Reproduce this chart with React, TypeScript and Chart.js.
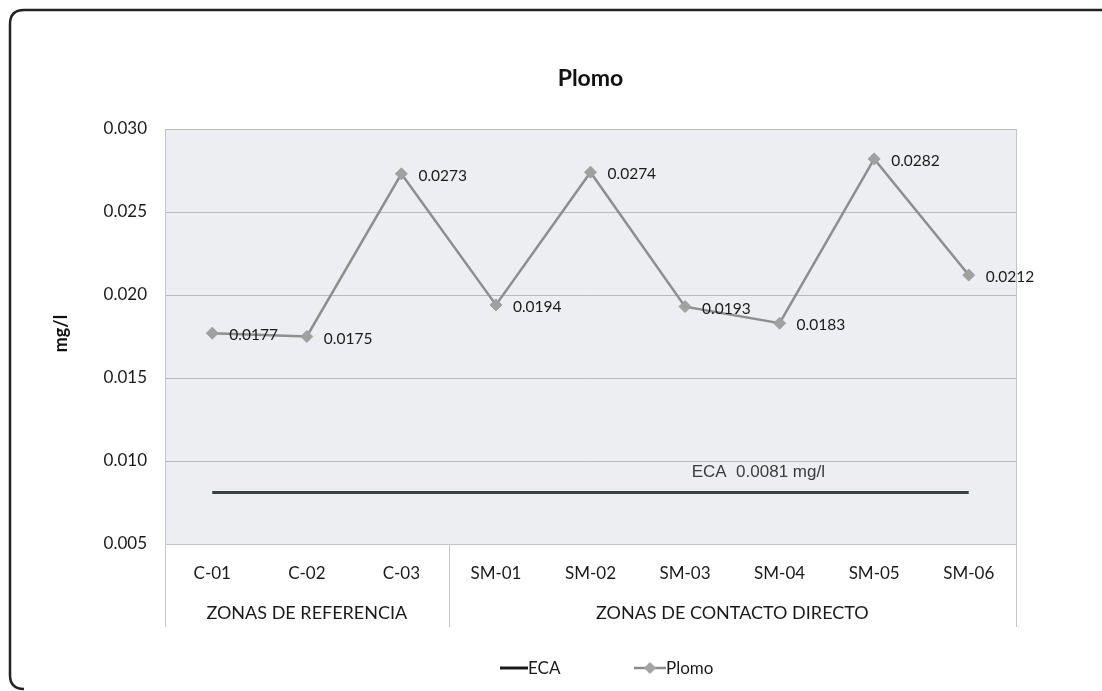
import React, { useEffect, useRef } from "react";
import { Chart, registerables } from "chart.js";

Chart.register(...registerables);

const categories = ["C-01", "C-02", "C-03", "SM-01", "SM-02", "SM-03", "SM-04", "SM-05", "SM-06"];
const plomoValues = [0.0177, 0.0175, 0.0273, 0.0194, 0.0274, 0.0193, 0.0183, 0.0282, 0.0212];
const ecaValue = 0.0081;
const ecaValues = categories.map(() => ecaValue);
const groups = [
  { label: "ZONAS DE REFERENCIA", from: 0, to: 2 },
  { label: "ZONAS DE CONTACTO DIRECTO", from: 3, to: 8 },
];
const chartTitle = "Plomo";
const yTitle = "mg/l";
const ecaNote = "ECA  0.0081 mg/l";
const yMin = 0.005;
const yMax = 0.03;
const yStep = 0.005;

const FONT = "Lato, 'Open Sans', sans-serif";

const decorPlugin = {
  id: "decor",
  beforeDraw(chart: any) {
    const { ctx, chartArea } = chart;
    ctx.save();
    ctx.fillStyle = "#ffffff";
    ctx.fillRect(0, 0, chart.width, chart.height);
    ctx.fillStyle = "#eceef1";
    ctx.fillRect(chartArea.left, chartArea.top, chartArea.right - chartArea.left, chartArea.bottom - chartArea.top);
    ctx.restore();
  },
  afterDraw(chart: any) {
    const { ctx, chartArea, scales } = chart;
    const xs = scales.x;
    const ys = scales.y;
    ctx.save();
    // outer frame (top-left)
    ctx.strokeStyle = "#222";
    ctx.lineWidth = 2.5;
    ctx.beginPath();
    ctx.moveTo(24, 689);
    ctx.quadraticCurveTo(10, 689, 10, 675);
    ctx.lineTo(10, 24);
    ctx.quadraticCurveTo(10, 10, 24, 10);
    ctx.lineTo(1102, 10);
    ctx.stroke();

    // plot border left / right
    ctx.strokeStyle = "#c4c4c4";
    ctx.lineWidth = 1;
    ctx.beginPath();
    ctx.moveTo(chartArea.left + 0.5, chartArea.top);
    ctx.lineTo(chartArea.left + 0.5, chartArea.bottom + 83);
    ctx.moveTo(chartArea.right + 0.5, chartArea.top);
    ctx.lineTo(chartArea.right + 0.5, chartArea.bottom + 83);
    ctx.stroke();

    // group separators + labels
    const step = xs.getPixelForValue(1) - xs.getPixelForValue(0);
    groups.forEach((g, i) => {
      const left = xs.getPixelForValue(g.from) - step / 2;
      const right = xs.getPixelForValue(g.to) + step / 2;
      if (i > 0) {
        ctx.beginPath();
        ctx.moveTo(Math.round(left) + 0.5, chartArea.bottom);
        ctx.lineTo(Math.round(left) + 0.5, chartArea.bottom + 83);
        ctx.stroke();
      }
      ctx.fillStyle = "#1a1a1a";
      ctx.font = `18px ${FONT}`;
      ctx.textAlign = "center";
      ctx.textBaseline = "middle";
      ctx.fillText(g.label, (left + right) / 2, chartArea.bottom + 69);
    });

    // title
    ctx.fillStyle = "#111";
    ctx.font = `bold 23px ${FONT}`;
    ctx.textAlign = "center";
    ctx.textBaseline = "middle";
    ctx.fillText(chartTitle, (chartArea.left + chartArea.right) / 2, 79);

    // y title
    ctx.save();
    ctx.translate(61, (chartArea.top + chartArea.bottom) / 2 - 3);
    ctx.rotate(-Math.PI / 2);
    ctx.font = `bold 18px ${FONT}`;
    ctx.fillText(yTitle, 0, 0);
    ctx.restore();

    // data labels
    const meta = chart.getDatasetMeta(1);
    ctx.font = `15.5px ${FONT}`;
    ctx.textAlign = "left";
    ctx.fillStyle = "#1a1a1a";
    meta.data.forEach((pt: any, i: number) => {
      ctx.fillText(plomoValues[i].toFixed(4), pt.x + 17, pt.y + 2);
    });

    // ECA note
    ctx.font = `17px 'Liberation Sans', Arial, sans-serif`;
    ctx.fillStyle = "#3c3c3c";
    ctx.textAlign = "center";
    const nx = (xs.getPixelForValue(5) + xs.getPixelForValue(6)) / 2 + 26;
    ctx.fillText(ecaNote, nx, ys.getPixelForValue(ecaValue) - 20);

    // legend
    const ly = 668;
    ctx.strokeStyle = "#1a1a1a";
    ctx.lineWidth = 3;
    ctx.beginPath();
    ctx.moveTo(500, ly);
    ctx.lineTo(528, ly);
    ctx.stroke();
    ctx.fillStyle = "#1a1a1a";
    ctx.font = `17px ${FONT}`;
    ctx.textAlign = "left";
    ctx.fillText("ECA", 528, ly + 1);

    ctx.strokeStyle = "#8c8c8c";
    ctx.lineWidth = 2.5;
    ctx.beginPath();
    ctx.moveTo(634, ly);
    ctx.lineTo(666, ly);
    ctx.stroke();
    ctx.fillStyle = "#a3a3a3";
    ctx.beginPath();
    ctx.moveTo(650, ly - 6);
    ctx.lineTo(656, ly);
    ctx.lineTo(650, ly + 6);
    ctx.lineTo(644, ly);
    ctx.closePath();
    ctx.fill();
    ctx.fillStyle = "#1a1a1a";
    ctx.fillText("Plomo", 666, ly + 1);
    ctx.restore();
  },
};

export default function App() {
  const ref = useRef<HTMLCanvasElement | null>(null);
  useEffect(() => {
    if (!ref.current) return;
    const chart = new Chart(ref.current, {
      type: "line",
      data: {
        labels: categories,
        datasets: [
          {
            label: "ECA",
            data: ecaValues,
            borderColor: "#3a3f44",
            borderWidth: 3,
            pointRadius: 0,
            fill: false,
          },
          {
            label: "Plomo",
            data: plomoValues,
            borderColor: "#8e8e8e",
            borderWidth: 2.5,
            pointStyle: "rectRot",
            pointRadius: 6,
            pointBackgroundColor: "#a0a0a0",
            pointBorderColor: "#a0a0a0",
            pointBorderWidth: 1,
            fill: false,
          },
        ],
      },
      options: {
        animation: false,
        responsive: false,
        maintainAspectRatio: false,
        layout: { padding: { left: 0, right: 86, top: 129, bottom: 47 } },
        plugins: {
          legend: { display: false },
          title: { display: false },
          tooltip: { enabled: false },
        },
        scales: {
          x: {
            offset: true,
            grid: { display: false, drawTicks: false, offset: true },
            border: { display: true, color: "#c4c4c4" },
            ticks: {
              color: "#1a1a1a",
              font: { size: 17, family: FONT },
              padding: 19,
              maxRotation: 0,
            },
            afterFit: (s: any) => {
              s.height = 100;
            },
          },
          y: {
            min: yMin,
            max: yMax,
            grid: { color: "#b9b9b9", drawTicks: false },
            border: { display: false },
            ticks: {
              stepSize: yStep,
              color: "#1a1a1a",
              font: { size: 17, family: FONT },
              padding: 18,
              callback: (v: any) => Number(v).toFixed(3),
            },
            afterFit: (s: any) => {
              s.width = 165;
            },
          },
        },
      },
      plugins: [decorPlugin],
    });
    return () => chart.destroy();
  }, []);
  return (
    <div style={{ position: "fixed", left: 0, top: 0, width: 1102, height: 691 }}>
      <canvas ref={ref} width={1102} height={691} style={{ width: 1102, height: 691 }} />
    </div>
  );
}
